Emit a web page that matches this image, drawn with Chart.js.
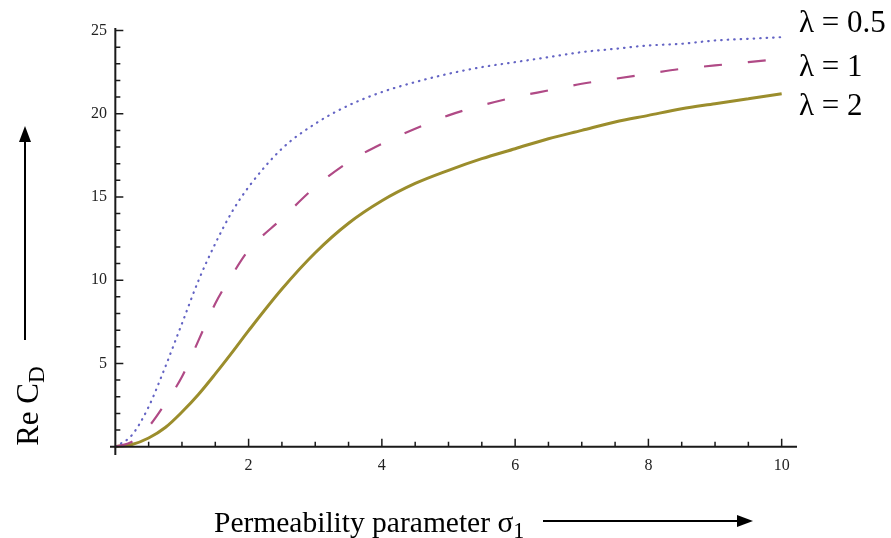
<!DOCTYPE html>
<html>
<head>
<meta charset="utf-8">
<script src="https://cdn.jsdelivr.net/npm/chart.js@4.4.1/dist/chart.umd.min.js"></script>
<style>
  html, body { margin: 0; padding: 0; background: #fff; }
  #wrap { position: relative; width: 891px; height: 538px; overflow: hidden; }
  #wrap canvas { position: absolute; left: 0; top: 0; }
  .txt { position: absolute; font-family: "Liberation Serif", "Times New Roman", serif; color: #000; white-space: nowrap; line-height: 28px; }
  .txt sub { font-size: 0.75em; vertical-align: -0.25em; line-height: 0; }
  .lam { font-size: 31px; left: 799px; }
  .line { position: absolute; background: #000; }
  .head { position: absolute; width: 0; height: 0; }
</style>
</head>
<body>
<div id="wrap">
  <canvas id="chart" width="891" height="538"></canvas>

  <div class="txt" id="ytitle" style="font-size:31px; left:28px; top:406px; transform:translate(-50%,-50%) rotate(-90deg);">Re C<sub>D</sub></div>
  <div class="line" style="left:24px; top:140px; width:2px; height:200px;"></div>
  <div class="head" style="left:19px; top:126px; border-left:6px solid transparent; border-right:6px solid transparent; border-bottom:16px solid #000;"></div>

  <div class="txt" style="font-size:29.5px; left:214px; top:508px;">Permeability parameter σ<sub>1</sub></div>
  <div class="line" style="left:543px; top:520px; width:196px; height:2px;"></div>
  <div class="head" style="left:737px; top:515px; border-top:6px solid transparent; border-bottom:6px solid transparent; border-left:16px solid #000;"></div>

  <div class="txt lam" style="top:8px;">λ = 0.5</div>
  <div class="txt lam" style="top:52px;">λ = 1</div>
  <div class="txt lam" style="top:91px;">λ = 2</div>
</div>

<script>
/*  Donnees  */

const sigma = [0, 0.25, 0.5, 0.75, 1, 1.25, 1.5, 1.75, 2, 2.5, 3, 3.5, 4, 4.5, 5, 5.5, 6, 6.5, 7, 7.5, 8, 8.5, 9, 9.5, 10];
const lambdaHalf = [0, 0.7, 2.4, 4.8, 7.4, 10.0, 12.2, 14.1, 15.6, 17.9, 19.4, 20.5, 21.3, 21.9, 22.4, 22.8, 23.1, 23.4, 23.7, 23.9, 24.1, 24.2, 24.4, 24.5, 24.6];
const lambdaOne = [0, 0.3, 1.2, 2.6, 4.2, 6.4, 8.6, 10.3, 11.8, 13.7, 15.6, 17.1, 18.2, 19.1, 19.9, 20.5, 21.0, 21.4, 21.8, 22.1, 22.4, 22.7, 22.9, 23.1, 23.3];
const lambdaTwo = [0, 0.13, 0.52, 1.15, 2.08, 3.15, 4.37, 5.65, 6.97, 9.47, 11.65, 13.42, 14.77, 15.81, 16.6, 17.3, 17.9, 18.5, 19.0, 19.5, 19.9, 20.3, 20.6, 20.9, 21.2];

const xTickLabels = [2, 4, 6, 8, 10];
const yTickLabels = [5, 10, 15, 20, 25];

function toPoints(ys) {
    return sigma.map((x, i) => ({ x: x, y: ys[i] }));
}


/*  Axes facon Mathematica : lignes a zero, graduations vers l'interieur  */

const mathAxes = {
    id: "mathAxes",
    afterDraw(chart) {
        const ctx = chart.ctx;
        const xs = chart.scales.x;
        const ys = chart.scales.y;
        const area = chart.chartArea;
        const x0 = xs.getPixelForValue(0);
        const y0 = ys.getPixelForValue(0);

        ctx.save();
        ctx.strokeStyle = "#1a1a1a";
        ctx.lineWidth = 2;
        ctx.beginPath();
        ctx.moveTo(area.left, y0);
        ctx.lineTo(area.right, y0);
        ctx.moveTo(x0, area.top);
        ctx.lineTo(x0, area.bottom);
        ctx.stroke();

        ctx.lineWidth = 1.5;
        ctx.beginPath();
        xs.ticks.forEach(t => {
            if (t.value < 0.4) return;
            const px = xs.getPixelForValue(t.value);
            const len = xTickLabels.includes(t.value) ? 8 : 5;
            ctx.moveTo(px, y0);
            ctx.lineTo(px, y0 - len);
        });
        ys.ticks.forEach(t => {
            if (t.value < 0.9) return;
            const py = ys.getPixelForValue(t.value);
            const len = yTickLabels.includes(t.value) ? 8 : 5;
            ctx.moveTo(x0, py);
            ctx.lineTo(x0 + len, py);
        });
        ctx.stroke();
        ctx.restore();
    }
};


/*  Graphique  */

const tickFont = { family: "'Liberation Serif', serif", size: 16 };

new Chart(document.getElementById("chart"), {
    type: "line",
    data: {
        datasets: [
            {
                label: "λ = 0.5",
                data: toPoints(lambdaHalf),
                borderColor: "#6464c4",
                borderWidth: 2.2,
                borderDash: [0.5, 6],
                borderCapStyle: "round",
                cubicInterpolationMode: "monotone",
                pointRadius: 0
            },
            {
                label: "λ = 1",
                data: toPoints(lambdaOne),
                borderColor: "#b04a86",
                borderWidth: 2.2,
                borderDash: [18, 26],
                cubicInterpolationMode: "monotone",
                pointRadius: 0
            },
            {
                label: "λ = 2",
                data: toPoints(lambdaTwo),
                borderColor: "#9b8d2c",
                borderWidth: 3,
                cubicInterpolationMode: "monotone",
                pointRadius: 0
            }
        ]
    },
    options: {
        responsive: false,
        animation: false,
        layout: { padding: { left: 0, top: 28, right: 94, bottom: 0 } },
        plugins: {
            legend: { display: false },
            tooltip: { enabled: false }
        },
        scales: {
            x: {
                type: "linear",
                min: -0.08,
                max: 10.23,
                grid: { display: false, drawTicks: false },
                border: { display: false },
                afterFit: s => { s.height = 83; },
                ticks: {
                    stepSize: 0.5,
                    includeBounds: false,
                    autoSkip: false,
                    maxRotation: 0,
                    padding: 1,
                    color: "#222",
                    font: tickFont,
                    callback: v => xTickLabels.includes(v) ? String(v) : ""
                }
            },
            y: {
                type: "linear",
                min: -0.5,
                max: 25.15,
                grid: { display: false, drawTicks: false },
                border: { display: false },
                afterFit: s => { s.width = 110; },
                ticks: {
                    stepSize: 1,
                    includeBounds: false,
                    autoSkip: false,
                    padding: 3,
                    color: "#222",
                    font: tickFont,
                    callback: v => yTickLabels.includes(v) ? String(v) : ""
                }
            }
        }
    },
    plugins: [mathAxes]
});
</script>
</body>
</html>
